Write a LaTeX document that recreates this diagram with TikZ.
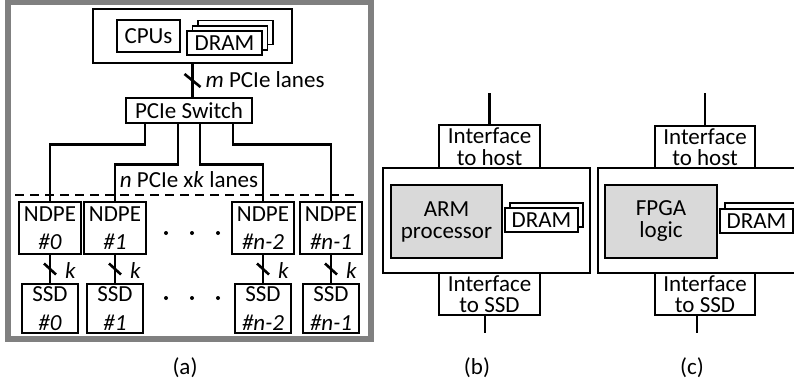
\documentclass[tikz,border=0pt]{standalone}
\usepackage{fontspec}
\setmainfont{Carlito}
\usetikzlibrary{shadows}
\begin{document}
\begin{tikzpicture}[x=1pt,y=-1pt,font=\fontsize{23}{28.5}\selectfont,
  box/.style={draw,line width=1.5pt,fill=white,inner sep=0pt,align=center},
  sz/.style 2 args={minimum width=#1pt,minimum height=#2pt},
  iface/.style={box,font=\fontsize{23}{21.5}\selectfont},
  core/.style={box,fill=black!15,font=\fontsize{23}{22}\selectfont},
  stack/.style 2 args={copy shadow={shadow xshift=#1pt,shadow yshift=#2pt,fill=white,draw=black,line width=1.5pt}},
  conn/.style={line width=2.6pt},
  lbl/.style={anchor=base west,inner sep=0pt}]
\useasboundingbox (0,0) rectangle (794,391);
\clip (0,0) rectangle (794,391);
\draw[gray,line width=6pt] (8,1.5) rectangle (371,339);
\node[box,sz={199}{54}] (host) at (192.5,36) {};
\node[box,sz={63}{32}] (cpu) at (148.5,36) {CPUs};
\node[box,sz={75}{24},stack={11}{10.5},stack={5.5}{5.25}] (dra) at (224.5,43) {DRAM};
\node[box,sz={126}{25}] (sw) at (189,110.5) {PCIe Switch};
\draw[conn] (host.south) -- coordinate (m) (host.south |- sw.north);
\draw[conn] (m) ++(-8,-6.5) -- ++(16,13);
\node[lbl] (ml) at ([xshift=13pt,yshift=-7pt]m) {\textit{m} PCIe lanes};
\draw[line width=1.3pt,dash pattern=on 9pt off 6pt] (15,195) -- (358,195);
\node (nl) at (189,180) {\textit{n} PCIe x\textit{k} lanes};
\foreach \c/\x/\lab in {0/50/0,1/115/1,2/263/n-2,3/331/n-1} {
  \node[box,sz={62}{52}] (nd\c) at (\x,228) {NDPE\\\textit{\#\lab}};
  \node[box,sz={56}{49}] (ssd\c) at (\x,308.5) {SSD\\\textit{\#\lab}};
  \draw[conn] (nd\c.south) -- coordinate (k\c) (ssd\c.north);
  \draw[conn] (k\c) ++(-6,-5.5) -- ++(12,11);
  \node[lbl] (kl\c) at ([xshift=15pt,yshift=-9pt]k\c) {\textit{k}};
}
\draw[conn] ([xshift=-44pt]sw.south) -- ++(0,21) -| (nd0.north);
\draw[conn] ([xshift=-11pt]sw.south) -- ++(0,41) -| (nd1.north);
\draw[conn] ([xshift=11pt]sw.south) -- ++(0,41) -| (nd2.north);
\draw[conn] ([xshift=44pt]sw.south) -- ++(0,21) -| (nd3.north);
\foreach \x in {166,192,218}
  \foreach \y in {233,298}
    \fill (\x,\y) circle (2pt);
\node[box,sz={207}{105}] (mb) at (486.5,220.5) {};
\node[iface,sz={101}{43}] (hb) at (489.5,146.5) {Interface\\to host};
\node[iface,sz={101}{42}] (sb) at (489.5,294) {Interface\\to SSD};
\node[core,sz={111}{73}] (arm) at (446.5,221.5) {ARM\\processor};
\node[box,sz={73}{24},stack={5}{5}] (drb) at (541.5,220) {DRAM};
\coordinate (tb) at (489.5,93);
\coordinate (bb) at (485,333);
\draw[conn] (tb) -- (hb.north);
\draw[conn] (bb |- sb.south) -- (bb);
\node[box,sz={207}{105}] (mc) at (701.5,220.5) {};
\node[iface,sz={100}{42}] (hc) at (705,147) {Interface\\to host};
\node[iface,sz={100}{42}] (sc) at (705,294) {Interface\\to SSD};
\node[core,sz={112}{73}] (fpga) at (661,221.5) {FPGA\\logic};
\node[box,sz={73}{24},stack={5}{6}] (drc) at (756.5,221) {DRAM};
\coordinate (tc) at (705,93);
\coordinate (bc) at (697,333);
\draw[conn] (tc) -- (hc.north);
\draw[conn] (bc |- sc.south) -- (bc);
\node (la) at (185,368) {(a)};
\node (lb) at (477,368) {(b)};
\node (lc) at (692,368) {(c)};
\end{tikzpicture}
\end{document}
